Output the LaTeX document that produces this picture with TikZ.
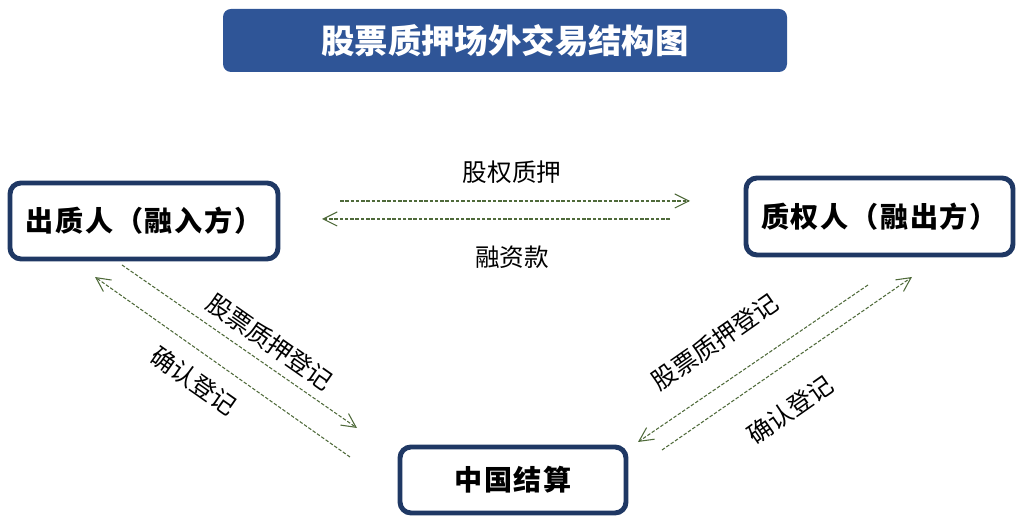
\documentclass[tikz,border=0pt]{standalone}
\usepackage{fontspec}
\newfontfamily\cjk{Noto Sans CJK SC}
\newfontfamily\cjkwide[LetterSpace=6]{Noto Sans CJK SC}
\usetikzlibrary{arrows.meta, positioning}
\definecolor{titleblue}{HTML}{2F5597}
\definecolor{navy}{HTML}{1F3864}
\definecolor{olive}{HTML}{4F6A3A}

\begin{document}
\begin{tikzpicture}[
	party/.style={draw=navy, line width=2.8pt, rounded corners=0.22cm, fill=white, font=\cjkwide\bfseries\fontsize{16}{18}\selectfont, inner sep=0pt},
	flow/.style={draw=olive, line width=0.6pt, dash pattern=on 2pt off 1pt, -{Straight Barb[length=8pt,width=8pt]}},
	lbl/.style={font=\cjk\fontsize{14}{16}\selectfont}]
	\useasboundingbox (0,0) rectangle (20.48,10.46);
	% title
	\node[fill=titleblue, rounded corners=0.16cm, minimum width=11.28cm, minimum height=1.26cm, text=white, font=\cjk\bfseries\fontsize{19}{21}\selectfont] (title) at (10.1,9.65) {股票质押场外交易结构图};
	% parties
	\node[party, minimum width=5.36cm, minimum height=1.52cm] (pledgor) at (2.88,6.04) {出质人（融入方）};
	\node[party, minimum width=5.34cm, minimum height=1.54cm] (pledgee) at (17.59,6.13) {质权人（融出方）};
	\node[party, minimum width=4.52cm, minimum height=1.32cm] (csdc) at (10.26,0.86) {中国结算};
	% arrow ends
	\coordinate (h1a) at (6.8,6.44);   \coordinate (h1b) at (13.8,6.44);
	\coordinate (h2a) at (13.4,6.08);  \coordinate (h2b) at (6.44,6.08);
	\coordinate (l1a) at (2.44,5.16);  \coordinate (l1b) at (7.14,1.9);
	\coordinate (l2a) at (7.0,1.32);   \coordinate (l2b) at (1.9,4.92);
	\coordinate (r1a) at (17.36,4.76); \coordinate (r1b) at (12.76,1.62);
	\coordinate (r2a) at (13.24,1.46); \coordinate (r2b) at (18.24,4.92);
	\draw[flow] (h1a) -- (h1b);
	\draw[flow] (h2a) -- (h2b);
	\draw[flow] (l1a) -- (l1b);
	\draw[flow] (l2a) -- (l2b);
	\draw[flow] (r1a) -- (r1b);
	\draw[flow] (r2a) -- (r2b);
	% labels
	\node[lbl] (pledge) at (10.24,7.02) {股权质押};
	\node[lbl] (loan) at (10.24,5.32) {融资款};
	\node[lbl, rotate=-35] (regl) at (5.4,3.62) {股票质押登记};
	\node[lbl, rotate=-35] (confl) at (3.88,2.84) {确认登记};
	\node[lbl, rotate=35] (regr) at (14.3,3.62) {股票质押登记};
	\node[lbl, rotate=35] (confr) at (15.8,2.26) {确认登记};
\end{tikzpicture}
\end{document}
